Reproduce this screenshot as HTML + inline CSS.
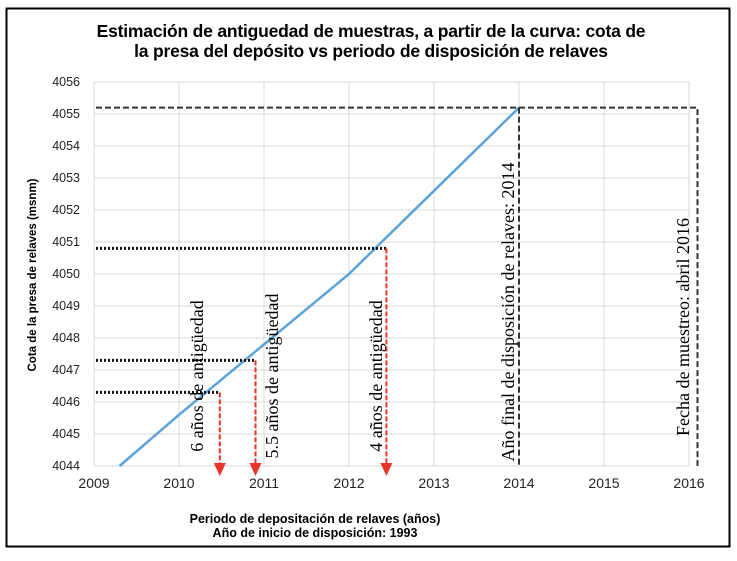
<!DOCTYPE html>
<html><head><meta charset="utf-8"><style>
body{margin:0;background:#fff;}
svg{display:block;font-family:"Liberation Sans",sans-serif;}
</style></head><body>
<svg id="chart" width="737" height="561" viewBox="0 0 737 561" xmlns="http://www.w3.org/2000/svg">
<rect x="6.5" y="8.5" width="723" height="538" fill="none" stroke="#000" stroke-width="2"/>
<text x="371" y="37" text-anchor="middle" font-weight="bold" font-size="17.5" letter-spacing="-0.2">Estimación de antiguedad de muestras, a partir de la curva: cota de</text>
<text x="371" y="57" text-anchor="middle" font-weight="bold" font-size="17.5" letter-spacing="-0.2">la presa del depósito vs periodo de disposición de relaves</text>
<g id="grid"></g><g id="marks"></g><g id="ann"></g>
<text transform="translate(36,275) rotate(-90)" text-anchor="middle" font-weight="bold" font-size="11.5">Cota de la presa de relaves (msnm)</text>
<text x="315" y="523" text-anchor="middle" font-weight="bold" font-size="12.5">Periodo de depositación de relaves (años)</text>
<text x="315" y="537" text-anchor="middle" font-weight="bold" font-size="12.5">Año de inicio de disposición: 1993</text>
</svg>
<script>
const xTicks=[2009,2010,2011,2012,2013,2014,2015,2016];
const yTicks=[4044,4045,4046,4047,4048,4049,4050,4051,4052,4053,4054,4055,4056];
const years=[2009.3,2010,2011,2012,2013,2014];
const cota=[4044,4045.6,4047.8,4050,4052.6,4055.2];
const sampleYears=[2010.48,2010.9,2012.44];
const sampleCota=[4046.3,4047.3,4050.8];
const sampleLabels=["6 años de antigüedad","5.5 años de antigüedad","4 años de antigüedad"];
const NS="http://www.w3.org/2000/svg";
const X=v=>94+(v-2009)*85;
const Y=v=>466-(v-4044)*32;
function mk(t,p,parent){const e=document.createElementNS(NS,t);for(const k in p)e.setAttribute(k,p[k]);document.getElementById(parent).appendChild(e);return e;}
xTicks.forEach(v=>{
 const l=mk('line',{x1:X(v),x2:X(v),y1:Y(4056),y2:Y(4044),stroke:'#d4d8dc','stroke-width':1},'grid');
 
 
 const t=mk('text',{x:X(v),y:488,'text-anchor':'middle','font-size':14,fill:'#222'},'grid');t.textContent=v;
 
 
});
yTicks.forEach(v=>{
 const l=mk('line',{x1:X(2009),x2:X(2016),y1:Y(v),y2:Y(v),stroke:'#d4d8dc','stroke-width':1},'grid');
 
 
 const t=mk('text',{x:80,y:Y(v)+4,'text-anchor':'end','font-size':12.5,fill:'#222'},'grid');t.textContent=v;
 
 
});
const p=mk('polyline',{points:years.map((y,i)=>X(y)+','+Y(cota[i])).join(' '),fill:'none',stroke:'#5ba3d9','stroke-width':2.5},'marks');


sampleYears.forEach((yr,i)=>{
 const h=mk('line',{x1:X(2009)+2,x2:X(yr),y1:Y(sampleCota[i]),y2:Y(sampleCota[i]),stroke:'#111','stroke-width':3,'stroke-dasharray':'2 2'},'ann');
 
 
 const v=mk('line',{x1:X(yr),x2:X(yr),y1:Y(sampleCota[i]),y2:464,stroke:'#e8352b','stroke-width':2,'stroke-dasharray':'5 2'},'ann');
 
 
 const a=mk('polygon',{points:`${X(yr)-6},463 ${X(yr)+6},463 ${X(yr)},476`,fill:'#e8352b'},'ann');
 
 
});
const labX=[197,272,376];
sampleLabels.forEach((s,i)=>{
 const t=mk('text',{transform:`translate(${labX[i]+6},${376}) rotate(-90)`,'text-anchor':'middle','font-size':18,'font-family':'Liberation Serif,serif'},'ann');t.textContent=s;
 
 
});
const endY=2014,endC=4055.2,sampY=2016.1;
const d1=mk('polyline',{points:`${X(2009)+2},${Y(endC)} ${X(sampY)},${Y(endC)} ${X(sampY)},466`,fill:'none',stroke:'#333','stroke-width':2,'stroke-dasharray':'6 3'},'ann');


const d2=mk('line',{x1:X(endY),x2:X(endY),y1:Y(endC),y2:466,stroke:'#333','stroke-width':2,'stroke-dasharray':'6 3'},'ann');


const t1=mk('text',{transform:'translate(514,312) rotate(-90)','text-anchor':'middle','font-size':18,'font-family':'Liberation Serif,serif'},'ann');t1.textContent='Año final de disposición de relaves: 2014';


const t2=mk('text',{transform:'translate(689,327) rotate(-90)','text-anchor':'middle','font-size':18,'font-family':'Liberation Serif,serif'},'ann');t2.textContent='Fecha de muestreo: abril 2016';


</script>
</body></html>
